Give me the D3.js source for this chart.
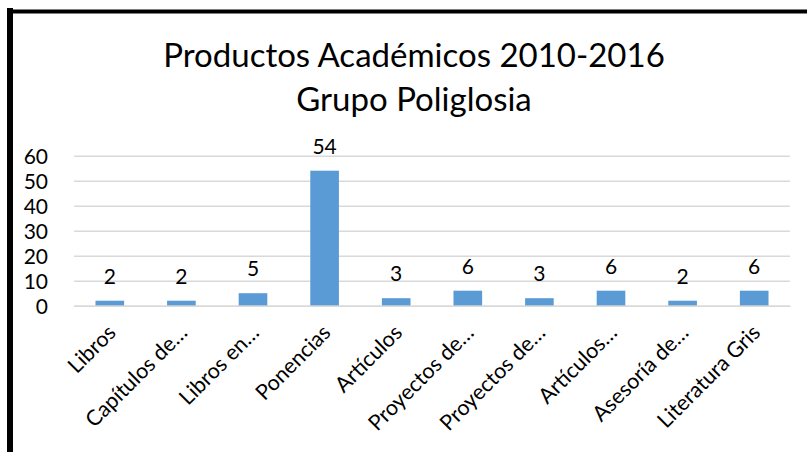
<!DOCTYPE html>
<html>
<head>
<meta charset="utf-8">
<script src="https://cdn.jsdelivr.net/npm/d3@7"></script>
<style>
  body { margin: 0; background: #fff; }
  svg { display: block; }
  svg text { font-family: Lato, "Open Sans", sans-serif; fill: #000; }
  .grid line { stroke: #d9d9d9; stroke-width: 1.5; }
  .grid .domain { display: none; }
  .y.axis .domain, .y.axis line { display: none; }
  .y.axis text { font-size: 21px; }
  .x.axis .domain { stroke: #d9d9d9; stroke-width: 1.5; }
  .x.axis line { display: none; }
  .x.axis text { font-size: 21.5px; }
  .lbl { font-size: 21px; }
  .title { font-size: 33px; }
</style>
</head>
<body>
<svg width="807" height="452"></svg>
<script>
var categories = ["Libros", "Capítulos de…", "Libros en…", "Ponencias", "Artículos",
  "Proyectos de…", "Proyectos de…", "Artículos…", "Asesoría de…", "Literatura Gris"];
var values = [2, 2, 5, 54, 3, 6, 3, 6, 2, 6];
var yTicks = [0, 10, 20, 30, 40, 50, 60];
var titleLines = ["Productos Académicos 2010-2016", "Grupo Poliglosia"];

var svg = d3.select("svg"),
  margin = {top: 155.7, right: 17, bottom: 146.3, left: 74},
  width = +svg.attr("width") - margin.left - margin.right,
  height = +svg.attr("height") - margin.top - margin.bottom,
  g = svg.append("g").attr("transform", "translate(" + margin.left + "," + margin.top + ")");

// frame (left + top black edges)
svg.append("line").attr("x1", 10).attr("x2", 10).attr("y1", 8).attr("y2", 452)
  .attr("stroke", "#000").attr("stroke-width", 6);
svg.append("line").attr("x1", 7).attr("x2", 807).attr("y1", 11.5).attr("y2", 11.5)
  .attr("stroke", "#000").attr("stroke-width", 4);

// title
svg.selectAll(".title").data(titleLines).enter().append("text")
  .attr("class", "title")
  .attr("x", 414)
  .attr("y", function(d, i) { return 67 + i * 44; })
  .attr("text-anchor", "middle")
  .text(function(d) { return d; });

var x = d3.scaleBand().domain(d3.range(categories.length)).range([0, width])
  .paddingInner(0.6).paddingOuter(0.3);
var y = d3.scaleLinear().domain([0, 60]).range([height, 0]);

g.append("g")
  .attr("class", "grid")
  .call(d3.axisLeft(y).tickValues(yTicks).tickSize(-width).tickFormat(""));

g.append("g")
  .attr("class", "y axis")
  .attr("transform", "translate(-23,0)")
  .call(d3.axisLeft(y).tickValues(yTicks).tickSize(0))
  .selectAll("text").attr("dy", "0.35em");

g.selectAll(".bar")
  .data(values)
  .enter().append("rect")
  .attr("class", "bar")
  .attr("fill", "#5b9bd5")
  .attr("x", function(d, i) { return x(i); })
  .attr("width", x.bandwidth())
  .attr("y", function(d) { return y(d); })
  .attr("height", function(d) { return height - y(d); });

g.selectAll(".lbl")
  .data(values)
  .enter().append("text")
  .attr("class", "lbl")
  .attr("text-anchor", "middle")
  .attr("x", function(d, i) { return x(i) + x.bandwidth() / 2; })
  .attr("y", function(d) { return y(d) - 17; })
  .text(function(d) { return d; });

var xa = g.append("g")
  .attr("class", "x axis")
  .attr("transform", "translate(0," + height + ")")
  .call(d3.axisBottom(x).tickSize(0).tickFormat(function(i) { return categories[i]; }));

xa.selectAll("text")
  .attr("text-anchor", "end")
  .attr("dy", "0.35em")
  .attr("y", 0)
  .attr("transform", "translate(2,23) rotate(-45)");
</script>
</body>
</html>
